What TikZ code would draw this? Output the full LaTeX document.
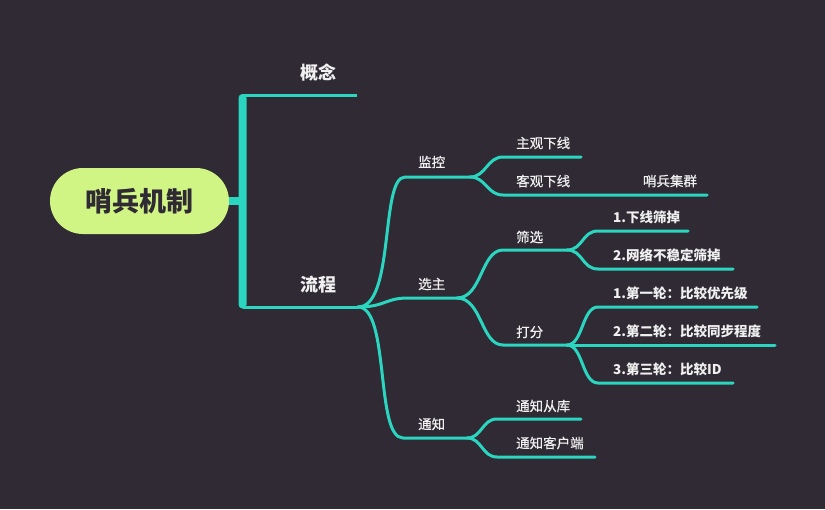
\documentclass[tikz,border=0pt]{standalone}
\usepackage{fontspec}
\newfontfamily\cjk{Noto Sans CJK SC}
\newfontfamily\cjkm[FakeBold=0.6]{Noto Sans CJK SC}
\definecolor{bg}{RGB}{47,42,52}
\definecolor{teal}{RGB}{43,214,192}
\definecolor{rootg}{RGB}{209,245,132}
\definecolor{txt}{RGB}{240,240,240}
\tikzset{
  br/.style={draw=teal, line width=3pt, line cap=round},
  lab/.style={text=txt, inner sep=0pt, font=\cjkm\fontsize{13.5}{15}\selectfont},
  labb/.style={text=txt, inner sep=0pt, font=\cjk\bfseries\fontsize{13.5}{15}\selectfont},
  big/.style={text=txt, inner sep=0pt, font=\cjk\bfseries\fontsize{18}{20}\selectfont},
}
\begin{document}
\begin{tikzpicture}[x=1pt,y=-1pt]
\useasboundingbox (0,0) rectangle (825,509);
\fill[bg] (0,0) rectangle (825,509);

% root
\node[fill=rootg, rounded corners=33pt, minimum width=179pt, minimum height=66pt, inner sep=0pt,
      text=bg, font=\cjk\bfseries\fontsize{27}{30}\selectfont] (root) at (139.5,201) {哨兵机制};

% bracket
\coordinate (bk) at (242.5,201);
\coordinate (gnR) at (357,95.5);
\coordinate (P) at (358,307);
\draw[draw=teal, line width=8pt] (root.east) -- (bk);
\fill[teal, rounded corners=4pt] (238.5,94) rectangle (246.5,308.5);
\draw[br, line cap=butt] (243,95.5) -- (gnR);
\draw[br, line cap=butt] (243,307) -- (P);
\node[big, anchor=west] (gn) at (300,73) {概念};
\node[big, anchor=west] (lc) at (300,285) {流程};

% level 1
\coordinate (jkL) at (405,177); \coordinate (jkR) at (470,177);
\coordinate (xzL) at (408,298); \coordinate (xzR) at (457,298);
\coordinate (tzL) at (403,438); \coordinate (tzR) at (467,438);
\draw[br] (P) .. controls (395,307) and (380,177) .. (jkL) -- (jkR);
\draw[br] (P) .. controls (385,307) and (385,298) .. (xzL) -- (xzR);
\draw[br] (P) .. controls (390,307) and (375,438) .. (tzL) -- (tzR);
\node[lab, anchor=west] (jk) at (418,162) {监控};
\node[lab, anchor=west] (xz) at (418,284) {选主};
\node[lab, anchor=west] (tz) at (418,424) {通知};

% 监控 children
\coordinate (zgL) at (503,157); \coordinate (zgR) at (581,157);
\coordinate (kgL) at (503,195); \coordinate (kgR) at (707,195);
\draw[br] (jkR) .. controls +(16,0) and +(-16,0) .. (zgL) -- (zgR);
\draw[br] (jkR) .. controls +(16,0) and +(-16,0) .. (kgL) -- (kgR);
\node[lab, anchor=west] (zg) at (516,143) {主观下线};
\node[lab, anchor=west] (kg) at (516,181) {客观下线};
\node[lab] (sb) at (670,181) {哨兵集群};

% 选主 children
\coordinate (sxL) at (503,250); \coordinate (sxR) at (567,250);
\coordinate (dfL) at (503,345); \coordinate (dfR) at (567,345);
\draw[br] (xzR) .. controls +(25,0) and +(-22,0) .. (sxL) -- (sxR);
\draw[br] (xzR) .. controls +(25,0) and +(-22,0) .. (dfL) -- (dfR);
\node[lab, anchor=west] (sx) at (516,237) {筛选};
\node[lab, anchor=west] (df) at (516,332) {打分};

% 筛选 children
\coordinate (s1L) at (598,231); \coordinate (s1R) at (688,231);
\coordinate (s2L) at (598,269); \coordinate (s2R) at (733,269);
\draw[br] (sxR) .. controls +(16,0) and +(-16,0) .. (s1L) -- (s1R);
\draw[br] (sxR) .. controls +(16,0) and +(-16,0) .. (s2L) -- (s2R);
\node[labb, anchor=west] (s1) at (613,217) {1.下线筛掉};
\node[labb, anchor=west] (s2) at (613,255) {2.网络不稳定筛掉};

% 打分 children
\coordinate (d1L) at (598,307); \coordinate (d1R) at (757,307);
\coordinate (d2R) at (775,345);
\coordinate (d3L) at (598,383); \coordinate (d3R) at (733,383);
\draw[br] (dfR) .. controls +(16,0) and +(-16,0) .. (d1L) -- (d1R);
\draw[br] (dfR) -- (d2R);
\draw[br] (dfR) .. controls +(16,0) and +(-16,0) .. (d3L) -- (d3R);
\node[labb, anchor=west] (d1) at (613,293) {1.第一轮：比较优先级};
\node[labb, anchor=west] (d2) at (613,331) {2.第二轮：比较同步程度};
\node[labb, anchor=west] (d3) at (613,369) {3.第三轮：比较ID};

% 通知 children
\coordinate (t1L) at (497,419); \coordinate (t1R) at (581,419);
\coordinate (t2L) at (497,457); \coordinate (t2R) at (595,457);
\draw[br] (tzR) .. controls +(15,0) and +(-15,0) .. (t1L) -- (t1R);
\draw[br] (tzR) .. controls +(15,0) and +(-15,0) .. (t2L) -- (t2R);
\node[lab, anchor=west] (t1) at (516,406) {通知从库};
\node[lab, anchor=west] (t2) at (516,443) {通知客户端};
\end{tikzpicture}
\end{document}
